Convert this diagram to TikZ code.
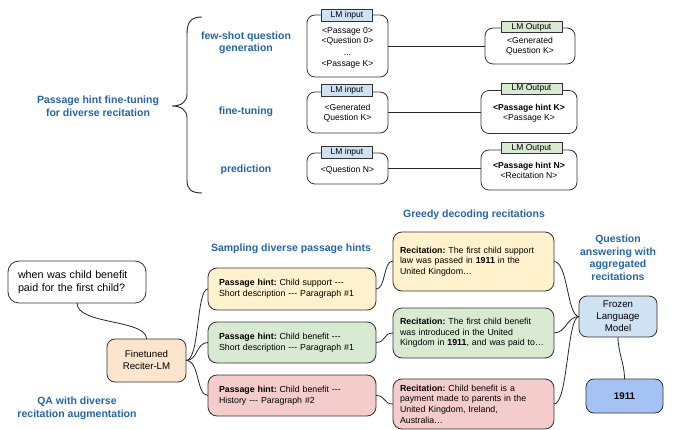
\documentclass[tikz,border=0pt]{standalone}
\usepackage{fontspec}
\setmainfont{Liberation Sans}
\frenchspacing
\definecolor{hblue}{RGB}{35,100,175}
\definecolor{tabblue}{HTML}{CFE2F3}
\definecolor{tabgreen}{HTML}{D9EAD3}
\definecolor{peach}{HTML}{FCE5CD}
\definecolor{cyellow}{HTML}{FFF2CC}
\definecolor{cgreen}{HTML}{D9EAD3}
\definecolor{cpink}{HTML}{F4CCCC}
\definecolor{cblue}{HTML}{CFE2F3}
\definecolor{cblue2}{HTML}{A4C2F4}
\definecolor{edge}{HTML}{333333}
\begin{document}
\begin{tikzpicture}[x=1pt,y=-1pt,
  every node/.style={inner sep=0pt, outer sep=0pt},
  head/.style={text=hblue, font=\fontsize{10.5}{12.5}\selectfont\bfseries, align=center},
  lmbox/.style={draw=edge, line width=0.8pt, rounded corners=8pt, align=center, font=\fontsize{8.6}{10}\selectfont},
  lmtext/.style={align=center, font=\fontsize{8.6}{10}\selectfont},
  intab/.style={draw=edge, line width=0.8pt, fill=tabblue, minimum width=51pt, minimum height=12pt, font=\fontsize{8.5}{10}\selectfont},
  outtab/.style={draw=edge, line width=0.8pt, fill=tabgreen, minimum width=61pt, minimum height=11pt, font=\fontsize{8.5}{10}\selectfont},
  hintbox/.style={draw=edge, line width=0.8pt, rounded corners=9pt, align=left, text width=146pt, inner xsep=11pt, minimum height=42pt, font=\fontsize{8.8}{11}\selectfont},
  recbox/.style={draw=edge, line width=0.8pt, rounded corners=9pt, align=left, text width=147pt, inner xsep=7pt, font=\fontsize{8.8}{10.6}\selectfont},
  mbox/.style={draw=edge, line width=0.8pt, rounded corners=8pt, align=center, font=\fontsize{9.7}{12}\selectfont},
  conn/.style={draw=black!85, line width=0.8pt}
]
\useasboundingbox (0,0) rectangle (674,430);

% top headings
\node[head] (ph) at (98,106) {Passage hint fine-tuning\\for diverse recitation};
\node[head] (fs) at (246,43) {few-shot question\\generation};
\node[head] (ft) at (246,112) {fine-tuning};
\node[head] (pr) at (246,170) {prediction};

% brace
\draw[black!85, line width=0.9pt] (202,17) .. controls (191,17) and (187,22) .. (187,34) -- (187,94)
  .. controls (187,102) and (181,106) .. (172,106)
  .. controls (181,106) and (187,110) .. (187,118) -- (187,180)
  .. controls (187,189) and (191,193) .. (202,193);

% top boxes
\node[lmbox, minimum width=81pt, minimum height=62pt] (in1) at (347.5,46) {};
\node[lmtext] (in1t) at (347.5,48) {<Passage 0>\\<Question 0>\\[1.5pt]...\\[1pt]<Passage K>};
\node[intab] (it1) at (347,15) {LM input};
\node[lmbox, minimum width=90pt, minimum height=36pt] (out1) at (530,46) {};
\node[lmtext] (out1t) at (530,46) {<Generated\\Question K>};
\node[outtab] (ot1) at (531.5,27) {LM Output};
\draw[conn] (in1.east) -- (out1.west);

\node[lmbox, minimum width=81pt, minimum height=41pt] (in2) at (347.5,112.5) {};
\node[lmtext] (in2t) at (347.5,113.5) {<Generated\\Question K>};
\node[intab] (it2) at (347,90.5) {LM input};
\node[lmbox, minimum width=96pt, minimum height=43pt] (out2) at (529,112) {};
\node[lmtext] (out2t) at (529,113.5) {\textbf{<Passage hint K>}\\<Passage K>};
\node[outtab] (ot2) at (531.5,88.5) {LM Output};
\draw[conn] (in2.east) -- (in2.east -| out2.west);

\node[lmbox, minimum width=81pt, minimum height=31pt] (in3) at (347.5,168.5) {};
\node[lmtext] (in3t) at (347.5,170) {<Question N>};
\node[intab] (it3) at (347,152.5) {LM input};
\node[lmbox, minimum width=96pt, minimum height=40pt] (out3) at (529,170) {};
\node[lmtext] (out3t) at (529,170.5) {\textbf{<Passage hint N>}\\<Recitation N>};
\node[outtab] (ot3) at (531.5,148) {LM Output};
\draw[conn] (in3.east) -- (in3.east -| out3.west);

% bottom part
\node[draw=edge, line width=0.8pt, rounded corners=11pt, align=left, text width=118pt, inner xsep=10pt, minimum height=42pt, font=\fontsize{10.7}{12.5}\selectfont] (q) at (77,282) {when was child benefit\\paid for the first child?};
\node[mbox, fill=peach, minimum width=79pt, minimum height=43pt] (fin) at (146.5,360.5) {Finetuned\\Reciter-LM};
\node[head] (qa) at (77,408.5) {QA with diverse\\recitation augmentation};
\node[head] (sd) at (291,249) {Sampling diverse passage hints};
\node[head] (gd) at (474,215) {Greedy decoding recitations};
\node[head] (qaa) at (618,257.5) {Question\\answering with\\aggregated\\recitations};

\node[hintbox, fill=cyellow] (h1) at (292,289) {\textbf{Passage hint:} Child support -{}-{}-\\Short description -{}-{}- Paragraph \#1};
\node[hintbox, fill=cgreen, minimum height=41pt] (h2) at (292,342.5) {\textbf{Passage hint:} Child benefit -{}-{}-\\Short description -{}-{}- Paragraph \#1};
\node[hintbox, fill=cpink, minimum height=41pt] (h3) at (292,395.5) {\textbf{Passage hint:} Child benefit -{}-{}-\\History -{}-{}- Paragraph \#2};

\node[recbox, fill=cyellow, minimum height=59pt] (r1) at (473.5,261.5) {\textbf{Recitation:} The first child support\\law was passed in \textbf{1911} in the\\United Kingdom…};
\node[recbox, fill=cgreen, minimum height=50pt] (r2) at (473.5,333) {\textbf{Recitation:} The first child benefit\\was introduced in the United\\Kingdom in \textbf{1911}, and was paid to…};
\node[recbox, fill=cpink, minimum height=50pt] (r3) at (473.5,404) {\textbf{Recitation:} Child benefit is a\\payment made to parents in the\\United Kingdom, Ireland,\\Australia…};

\node[mbox, fill=cblue, minimum width=78pt, minimum height=41pt] (flm) at (618,316.5) {Frozen\\Language\\Model};
\node[mbox, fill=cblue2, minimum width=77pt, minimum height=34pt, font=\fontsize{9.7}{12}\selectfont\bfseries] (ans) at (624.5,396) {1911};

% connectors
\draw[conn] (q.south) .. controls +(0,22) and +(0,-20) .. (fin.north);
\draw[conn] (fin.east) .. controls +(14,0) and +(-12,0) .. (h1.west);
\draw[conn] (fin.east) .. controls +(12,0) and +(-12,0) .. (h2.west);
\draw[conn] (fin.east) .. controls +(14,0) and +(-12,0) .. (h3.west);
\draw[conn] (h1.east) .. controls +(10,0) and +(-10,0) .. ([yshift=0.5pt]r1.west);
\draw[conn] (h2.east) .. controls +(10,0) and +(-10,0) .. (r2.west);
\draw[conn] (h3.east) .. controls +(10,0) and +(-10,0) .. (r3.west);
\draw[conn] (r1.east) .. controls +(14,0) and +(-12,0) .. (flm.west);
\draw[conn] (r2.east) .. controls +(12,0) and +(-12,0) .. (flm.west);
\draw[conn] (r3.east) .. controls +(14,0) and +(-12,0) .. (flm.west);
\draw[conn] (flm.south) .. controls +(0,16) and +(0,-16) .. (ans.north);
\end{tikzpicture}
\end{document}
